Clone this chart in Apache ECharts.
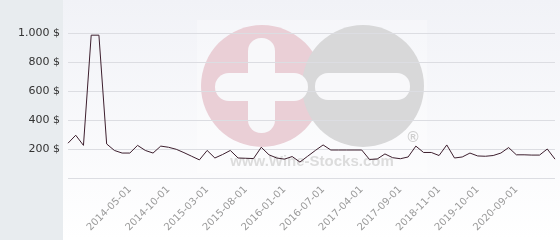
<!DOCTYPE html>
<html>
<head>
<meta charset="utf-8">
<script src="https://cdn.jsdelivr.net/npm/echarts@6/dist/echarts.min.js"></script>
<style>
html,body{margin:0;padding:0;background:#fff;}
#chart{width:560px;height:240px;}
</style>
</head>
<body>
<div id="chart"></div>
<script>
var categories = [
 '2013-09-01','2013-10-01','2013-11-01','2013-12-01','2014-01-01','2014-02-01','2014-03-01','2014-04-01',
 '2014-05-01','2014-06-01','2014-07-01','2014-08-01','2014-09-01','2014-10-01','2014-11-01','2014-12-01',
 '2015-01-01','2015-02-01','2015-03-01','2015-04-01','2015-05-01','2015-06-01','2015-07-01','2015-08-01',
 '2015-09-01','2015-10-01','2015-11-01','2015-12-01','2016-01-01','2016-02-01','2016-03-01','2016-05-01',
 '2016-06-01','2016-07-01','2016-09-01','2016-10-01','2016-12-01','2017-02-01','2017-04-01','2017-05-01',
 '2017-06-01','2017-07-01','2017-08-01','2017-09-01','2017-12-01','2018-03-01','2018-06-01','2018-09-01',
 '2018-11-01','2019-01-01','2019-03-01','2019-05-01','2019-08-01','2019-10-01','2019-12-01','2020-02-01',
 '2020-04-01','2020-07-01','2020-09-01','2020-11-01','2021-01-01','2021-03-01','2021-05-01','2021-07-01'
];
var prices = [
 240, 295, 225, 985, 985, 235, 190, 172,
 172, 225, 190, 172, 220, 212, 198, 175,
 150, 125, 190, 138, 162, 190, 138, 136,
 134, 212, 160, 138, 130, 148, 110, 150,
 190, 228, 193, 193, 193, 193, 193, 128,
 131, 166, 140, 133, 145, 220, 176, 176,
 155, 228, 138, 145, 172, 152, 150, 155,
 172, 210, 160, 160, 158, 158, 200, 130
];
var yTicks = [0, 200, 400, 600, 800, 1000];
var labelledDates = ['2014-05-01','2014-10-01','2015-03-01','2015-08-01','2016-01-01','2016-07-01',
 '2017-04-01','2017-09-01','2018-11-01','2019-10-01','2020-09-01'];

function fmt(v) {
  if (v === 0) return '';
  var s = String(v);
  return s.replace(/\B(?=(\d{3})+(?!\d))/g, '.') + ' $';
}

var chart = echarts.init(document.getElementById('chart'), null, {renderer: 'canvas'});
chart.setOption({
  animation: false,
  backgroundColor: '#fff',
  graphic: {
    elements: [
      {type: 'rect', z: -100, silent: true, shape: {x: 63, y: 0, width: 497, height: 240},
       style: {fill: new echarts.graphic.LinearGradient(0, 0, 0, 1, [{offset: 0, color: '#f1f2f7'}, {offset: 1, color: '#ffffff'}])}},
      {type: 'rect', z: -99, silent: true, shape: {x: 0, y: 0, width: 63, height: 240}, style: {fill: '#e8ecef'}},
      {type: 'rect', z: -98, silent: true, shape: {x: 197, y: 20, width: 230, height: 153}, style: {fill: 'rgba(255,255,255,0.3)'}},
      {type: 'circle', z: -97, silent: true, shape: {cx: 262, cy: 86, r: 61}, style: {fill: '#eacfd6'}},
      {type: 'circle', z: -96, silent: true, shape: {cx: 363, cy: 86, r: 61}, style: {fill: '#d8d8d9'}},
      {type: 'rect', z: -95, silent: true, shape: {x: 248, y: 38, width: 27, height: 95, r: 13}, style: {fill: '#f8f8fa'}},
      {type: 'rect', z: -95, silent: true, shape: {x: 215, y: 73, width: 93, height: 28, r: 14}, style: {fill: '#f8f8fa'}},
      {type: 'rect', z: -95, silent: true, shape: {x: 315, y: 73, width: 95, height: 27, r: 13}, style: {fill: '#f8f8fa'}},
      {type: 'text', z: -94, silent: true, x: 413, y: 138,
       style: {text: '®', font: 'bold 15px "Liberation Sans", Arial, sans-serif', fill: '#cfcfcf', align: 'center', verticalAlign: 'middle'}},
      {type: 'text', z: -94, silent: true, x: 312, y: 162,
       style: {text: 'www.Wine-Stocks.com', font: 'bold 15px "Liberation Sans", Arial, sans-serif', fill: '#dcdcdc', align: 'center', verticalAlign: 'middle'}}
    ]
  },
  grid: {left: 68, right: 5, top: 33, bottom: 62, containLabel: false},
  xAxis: {
    type: 'category',
    data: categories,
    boundaryGap: false,
    axisLine: {show: false},
    axisTick: {show: false},
    axisLabel: {
      rotate: 45,
      margin: 10,
      color: '#9a9a9a',
      fontSize: 10,
      fontFamily: '"DejaVu Sans", sans-serif',
      interval: function (i, v) { return labelledDates.indexOf(v) >= 0; }
    },
    splitLine: {show: false}
  },
  yAxis: {
    type: 'value',
    min: yTicks[0],
    max: yTicks[yTicks.length - 1],
    interval: 200,
    axisLine: {show: false},
    axisTick: {show: false},
    axisLabel: {
      margin: 8,
      color: '#333',
      fontSize: 11,
      fontFamily: '"DejaVu Sans", sans-serif',
      formatter: fmt
    },
    splitLine: {lineStyle: {color: '#dcdde2', width: 1}}
  },
  series: [{
    type: 'line',
    data: prices,
    symbol: 'none',
    smooth: false,
    lineStyle: {color: '#3d1f2e', width: 1}
  }]
});
</script>
</body>
</html>
